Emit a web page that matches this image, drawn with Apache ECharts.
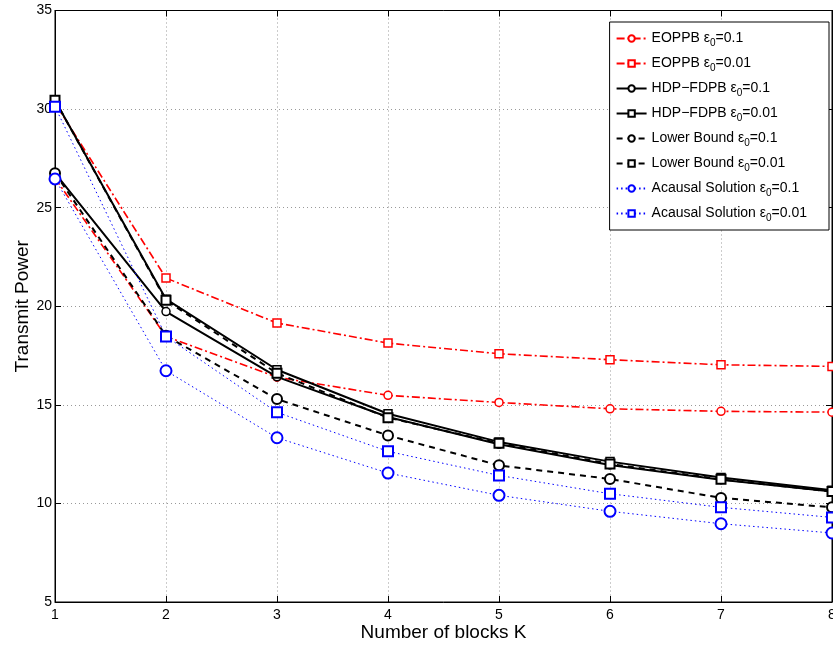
<!DOCTYPE html>
<html><head><meta charset="utf-8">
<script src="https://cdn.jsdelivr.net/npm/echarts@6/dist/echarts.min.js"></script>
<style>html,body{margin:0;padding:0;background:#fff}#c{width:833px;height:645px}</style>
</head><body><div id="c"></div>
<script>
var K = [1, 2, 3, 4, 5, 6, 7, 8];
var yTicks = [5, 10, 15, 20, 25, 30, 35];
var eoppb01  = [26.5, 18.47, 16.4, 15.48, 15.12, 14.8, 14.67, 14.63];
var eoppb001 = [30.3, 21.43, 19.15, 18.13, 17.59, 17.29, 17.03, 16.95];
var hdp01    = [26.75, 19.73, 16.42, 14.38, 13.0, 11.95, 11.2, 10.6];
var hdp001   = [30.45, 20.36, 16.78, 14.55, 13.12, 12.12, 11.32, 10.67];
var lb01     = [26.75, 18.5, 15.29, 13.45, 11.93, 11.24, 10.28, 9.8];
var lb001    = [30.45, 20.3, 16.6, 14.35, 13.05, 12.0, 11.22, 10.6];
var ac01     = [26.46, 16.73, 13.33, 11.54, 10.41, 9.6, 8.97, 8.5];
var ac001    = [30.12, 18.47, 14.62, 12.64, 11.42, 10.49, 9.8, 9.29];
var names = [
  ['EOPPB ', '0.1'], ['EOPPB ', '0.01'],
  ['HDP\u2212FDPB ', '0.1'], ['HDP\u2212FDPB ', '0.01'],
  ['Lower Bound ', '0.1'], ['Lower Bound ', '0.01'],
  ['Acausal Solution ', '0.1'], ['Acausal Solution ', '0.01']
];
var FONT = "'Liberation Sans',Arial,sans-serif";
function pairs(v){ return K.map(function(k,i){ return [k, v[i]]; }); }
function ser(idx, data, color, ltype, lw, symbol, ssize, sbw){
  return {
    name: names[idx][0] + '\u03b5' + '_0=' + names[idx][1],
    type: 'line', data: pairs(data), xAxisIndex: 0, yAxisIndex: 0,
    symbol: symbol, symbolSize: ssize, showAllSymbol: true,
    lineStyle: {color: color, width: lw, type: ltype},
    itemStyle: {color: '#fff', borderColor: color, borderWidth: sbw},
    emphasis: {disabled: true}, animation: false, z: 3
  };
}
var series = [
  ser(0, eoppb01, '#ff0000', [8,3,2,3], 1.6, 'circle', 8, 1.5),
  ser(1, eoppb001, '#ff0000', [8,3,2,3], 1.6, 'rect', 8, 1.5),
  ser(2, hdp01, '#000000', 'solid', 2, 'circle', 8, 1.5),
  ser(3, hdp001, '#000000', 'solid', 2, 'rect', 8, 1.5),
  ser(4, lb01, '#000000', [6,5], 2, 'circle', 10, 2),
  ser(5, lb001, '#000000', [6,5], 2, 'rect', 9, 2),
  ser(6, ac01, '#0000ff', [1.5,3], 1, 'circle', 11, 2),
  ser(7, ac001, '#0000ff', [1.5,3], 1, 'rect', 10, 2)
];
var chart = echarts.init(document.getElementById('c'), null, {renderer: 'canvas'});
chart.setOption({
  backgroundColor: '#fff',
  animation: false,
  grid: {left: 55, right: 1, top: 10.5, bottom: 43, containLabel: false, outerBoundsMode: 'none',
         show: true, borderColor: '#000', borderWidth: 1, backgroundColor: '#fff'},
  xAxis: [{
    type: 'value', min: 1, max: 8, interval: 1, position: 'bottom',
    name: 'Number of blocks K', nameLocation: 'middle', nameGap: 21, nameMoveOverlap: false,
    nameTextStyle: {fontFamily: FONT, fontSize: 19, color: '#000'},
    axisLine: {show: true, lineStyle: {color: '#000', width: 1}},
    axisTick: {show: true, inside: true, length: 6, lineStyle: {color: '#000'}},
    axisLabel: {fontFamily: FONT, fontSize: 14, color: '#000', margin: 6, formatter: function(v){return String(v);}},
    splitLine: {show: true, lineStyle: {color: '#999', type: [1,3], width: 1}}
  }, {
    type: 'value', min: 1, max: 8, interval: 1, position: 'top',
    axisLine: {show: true, lineStyle: {color: '#000'}},
    axisTick: {show: true, inside: true, length: 6, lineStyle: {color: '#000'}},
    axisLabel: {show: false}, splitLine: {show: false}
  }],
  yAxis: [{
    type: 'value', min: 5, max: 35, interval: 5, position: 'left',
    name: 'Transmit Power', nameLocation: 'middle', nameGap: 23, nameRotate: 90, nameMoveOverlap: false,
    nameTextStyle: {fontFamily: FONT, fontSize: 19, color: '#000'},
    axisLine: {show: true, lineStyle: {color: '#000', width: 1}},
    axisTick: {show: true, inside: true, length: 6, lineStyle: {color: '#000'}},
    axisLabel: {fontFamily: FONT, fontSize: 14, color: '#000', margin: 3, formatter: function(v){return String(v);}},
    splitLine: {show: true, lineStyle: {color: '#999', type: [1,3], width: 1}}
  }, {
    type: 'value', min: 5, max: 35, interval: 5, position: 'right',
    axisLine: {show: true, lineStyle: {color: '#000'}},
    axisTick: {show: true, inside: true, length: 6, lineStyle: {color: '#000'}},
    axisLabel: {show: false}, splitLine: {show: false}
  }],
  legend: {
    orient: 'vertical', right: 4, top: 22,
    backgroundColor: '#fff', borderColor: '#000', borderWidth: 1,
    padding: [7, 22, 7, 6], itemGap: 6, itemWidth: 30, itemHeight: 8,
    selectedMode: false,
    formatter: function(name){
      var p = name.split('\u03b5_0=');
      return '{t|' + p[0] + '\u03b5}{s|0}{t|=' + p[1] + '}';
    },
    textStyle: {
      fontFamily: FONT, fontSize: 14, color: '#000',
      rich: {
        t: {fontFamily: FONT, fontSize: 14, color: '#000', lineHeight: 18},
        s: {fontFamily: FONT, fontSize: 10, color: '#000', padding: [9, 0, 0, 0], lineHeight: 18}
      }
    }
  },
  series: series
});
</script></body></html>
